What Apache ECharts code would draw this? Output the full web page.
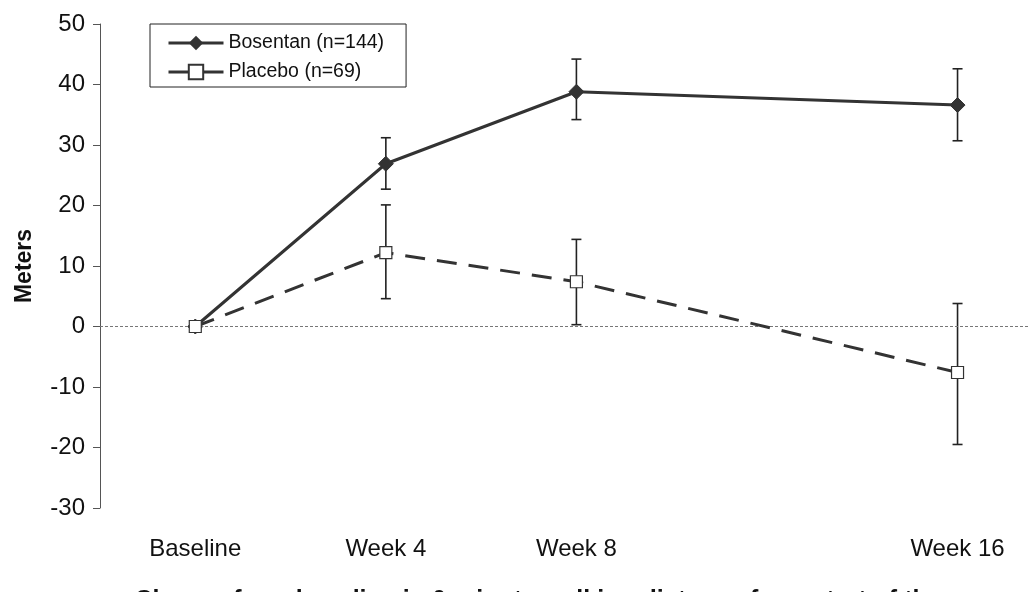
<!DOCTYPE html>
<html>
<head>
<meta charset="utf-8">
<script src="https://cdn.jsdelivr.net/npm/echarts@6/dist/echarts.min.js"></script>
<style>html,body{margin:0;padding:0;background:#fff;}#c{width:1033px;height:592px;}</style>
</head>
<body>
<div id="c"></div>
<script>
var weeks = [0, 4, 8, 16];
var weekLabels = ['Baseline', 'Week 4', 'Week 8', 'Week 16'];
var yTicks = [-30, -20, -10, 0, 10, 20, 30, 40, 50];
var bosentan = [0, 26.9, 38.8, 36.6];
var bosentanLow = [null, 22.7, 34.2, 30.7];
var bosentanHigh = [null, 31.2, 44.2, 42.6];
var placebo = [0, 12.2, 7.4, -7.6];
var placeboLow = [null, 4.6, 0.3, -19.5];
var placeboHigh = [null, 20.1, 14.4, 3.8];
var seriesNames = ['Bosentan (n=144)', 'Placebo (n=69)'];

var FONT = "'Liberation Sans', Arial, sans-serif";
var INK = '#333333';

function pairs(vals) { return weeks.map(function (w, i) { return [w, vals[i]]; }); }
function errData(lo, hi) {
  var out = [];
  weeks.forEach(function (w, i) { if (lo[i] != null) out.push([w, lo[i], hi[i]]); });
  return out;
}
function errRender(params, api) {
  var x = api.value(0);
  var p1 = api.coord([x, api.value(1)]);
  var p2 = api.coord([x, api.value(2)]);
  var hw = 5;
  var st = { stroke: '#222', lineWidth: 1.6 };
  return {
    type: 'group',
    children: [
      { type: 'line', shape: { x1: p1[0], y1: p1[1], x2: p2[0], y2: p2[1] }, style: st },
      { type: 'line', shape: { x1: p1[0] - hw, y1: p1[1], x2: p1[0] + hw, y2: p1[1] }, style: st },
      { type: 'line', shape: { x1: p2[0] - hw, y1: p2[1], x2: p2[0] + hw, y2: p2[1] }, style: st }
    ]
  };
}

var labelMap = {};
weeks.forEach(function (w, i) { labelMap[w] = weekLabels[i]; });

var chart = echarts.init(document.getElementById('c'));
chart.setOption({
  animation: false,
  backgroundColor: '#fff',
  textStyle: { fontFamily: FONT },
  grid: { left: 100, right: 4, top: 24, bottom: 84, containLabel: false, outerBoundsMode: 'none' },
  legend: {
    orient: 'vertical',
    left: 150, top: 24,
    padding: [9, 22, 5, 17],
    itemWidth: 55, itemHeight: 18, itemGap: 9, itemTextGap: 6,
    borderColor: '#222', borderWidth: 1,
    textStyle: { fontFamily: FONT, fontSize: 19.5, color: '#111', lineHeight: 20 },
    data: [
      { name: seriesNames[0], lineStyle: { width: 3 } },
      { name: seriesNames[1], lineStyle: { type: 'solid', width: 3 } }
    ]
  },
  xAxis: {
    type: 'value', min: -2, max: 17.5,
    axisLine: { show: false }, axisTick: { show: false }, splitLine: { show: false },
    axisLabel: {
      customValues: weeks,
      formatter: function (v) { return labelMap[v] || ''; },
      margin: 29, fontSize: 24, color: '#111', fontFamily: FONT
    },
    name: 'Change from baseline in 6-minute walking distance from start of therapy',
    nameLocation: 'middle', nameGap: 81,
    nameTextStyle: { fontSize: 25, fontWeight: 'bold', color: '#111', fontFamily: FONT }
  },
  yAxis: {
    type: 'value', min: yTicks[0], max: yTicks[yTicks.length - 1], interval: 10,
    axisLine: { show: true, onZero: false, lineStyle: { color: '#555', width: 1 } },
    axisTick: { show: true, inside: false, length: 7, lineStyle: { color: '#555' } },
    splitLine: { show: false },
    axisLabel: { fontSize: 24, color: '#111', margin: 15, fontFamily: FONT },
    name: 'Meters', nameLocation: 'middle', nameGap: 64,
    nameTextStyle: { fontSize: 23, fontWeight: 'bold', color: '#111', fontFamily: FONT }
  },
  series: [
    {
      name: 'err-b', type: 'custom', renderItem: errRender, data: errData(bosentanLow, bosentanHigh),
      encode: { x: 0, y: [1, 2] }, z: 1, silent: true
    },
    {
      name: 'err-p', type: 'custom', renderItem: errRender, data: errData(placeboLow, placeboHigh),
      encode: { x: 0, y: [1, 2] }, z: 1, silent: true
    },
    {
      name: seriesNames[1], type: 'line', data: pairs(placebo), z: 5,
      symbol: 'rect', symbolSize: 12, showAllSymbol: true,
      lineStyle: { color: INK, width: 3, type: [20, 12] },
      itemStyle: { color: '#fff', borderColor: INK, borderWidth: 1.2 },
      markLine: {
        silent: true, symbol: 'none', label: { show: false },
        lineStyle: { color: '#777', width: 1, type: [3, 2] },
        data: [{ yAxis: 0 }]
      }
    },
    {
      name: seriesNames[0], type: 'line', data: pairs(bosentan), z: 4,
      symbol: 'diamond', symbolSize: 15, showAllSymbol: true,
      lineStyle: { color: INK, width: 3 },
      itemStyle: { color: INK, borderColor: INK }
    }
  ]
});
</script>
</body>
</html>
